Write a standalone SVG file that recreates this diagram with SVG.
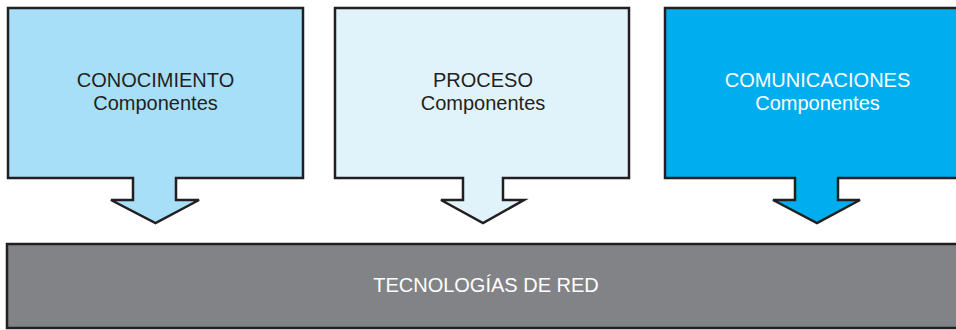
<svg xmlns="http://www.w3.org/2000/svg" width="956" height="330" viewBox="0 0 956 330">
<style>
.shape{stroke:#231f20;stroke-width:2.5;stroke-linejoin:miter}
.t{font-family:"Liberation Sans",Arial,sans-serif;font-size:20px;text-anchor:middle}
.dark{fill:#231f20}
.light{fill:#ffffff}
</style>
<rect width="956" height="330" fill="#ffffff"/>
<g id="conocimiento">
<path class="shape" fill="#a8dff8" d="M8,8 H303 V178 H176 V200 H199 L155.5,223 L111,200 H133 V178 H8 Z"/>
<text class="t dark" x="155.5" y="87">CONOCIMIENTO</text>
<text class="t dark" x="155.5" y="110">Componentes</text>
</g>
<g id="proceso">
<path class="shape" fill="#e0f3fb" d="M335,8 H629 V178 H503 V200 H524 L483,223 L441,200 H463 V178 H335 Z"/>
<text class="t dark" x="483" y="87">PROCESO</text>
<text class="t dark" x="483" y="110">Componentes</text>
</g>
<g id="comunicaciones">
<path class="shape" fill="#00aeef" d="M665,8 H970 V178 H838 V200 H860 L817,223 L773,200 H795 V178 H665 Z"/>
<text class="t light" x="817.5" y="87">COMUNICACIONES</text>
<text class="t light" x="817.5" y="110">Componentes</text>
</g>
<g id="tecnologias">
<rect class="shape" fill="#828387" x="7" y="244" width="960" height="84"/>
<text class="t light" x="486" y="292">TECNOLOGÍAS DE RED</text>
</g>
<g id="connectors"></g>
</svg>
